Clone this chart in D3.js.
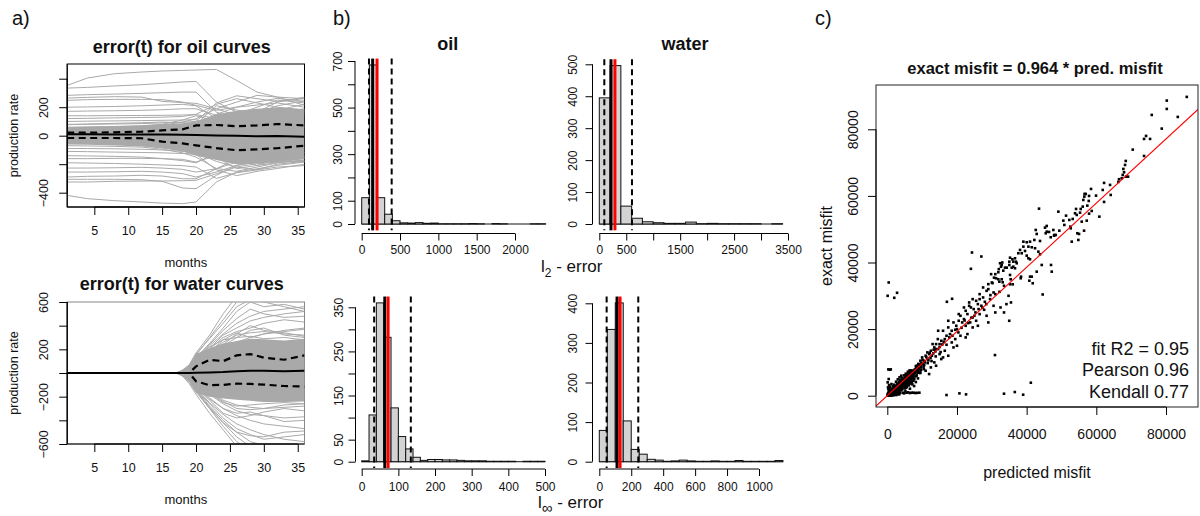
<!DOCTYPE html>
<html>
<head>
<meta charset="utf-8">
<script src="https://cdn.jsdelivr.net/npm/d3@7"></script>
<style>
  body { margin: 0; background: #fff; }
  svg { display: block; }
</style>
</head>
<body>
<svg id="fig" width="1200" height="516"></svg>
<script>
// ---------------- a) error(t) curves ----------------
const oilMonths = [1, 4, 8, 12, 15, 18, 20, 23, 26, 29, 32, 36];
const oilCoreHigh = [60, 62, 66, 72, 80, 88, 100, 150, 175, 190, 200, 185];
const oilCoreLow = [-62, -64, -68, -76, -90, -110, -140, -170, -200, -195, -185, -160];
const oilMedian = [10, 10, 9, 8, 8, 6, 5, 2, 0, -4, -2, -8];
const oilUpperQ = [21, 21, 24, 28, 37, 45, 72, 75, 66, 72, 82, 72];
const oilLowerQ = [-16, -16, -16, -18, -42, -54, -68, -87, -102, -96, -88, -70];
const oilCurves = [
  [353, 405, 435, 447, 454, 458, 461, 465, 388, 306, 271, 213],
  [334, 339, 349, 358, 367, 377, 381, 236, 166, 119, 143, 166],
  [283, 288, 292, 297, 302, 306, 306, 166, 108, 84, 96, 73],
  [264, 269, 274, 271, 241, 232, 227, 189, 143, 166, 189, 178],
  [248, 253, 255, 255, 253, 236, 213, 178, 201, 236, 262, 241],
  [171, 173, 175, 178, 182, 189, 189, 143, 96, 119, 166, 189],
  [77, 82, 87, 91, 96, 91, 84, 73, 119, 166, 236, 271],
  [-161, -161, -159, -159, -161, -166, -185, -138, -91, -115, -138, -150],
  [-227, -227, -225, -222, -227, -236, -255, -232, -185, -161, -150, -138],
  [-255, -255, -253, -250, -255, -266, -290, -255, -208, -185, -166, -161],
  [-290, -285, -283, -278, -283, -302, -302, -232, -161, -138, -126, -115],
  [-306, -306, -306, -309, -320, -367, -372, -278, -208, -185, -173, -185],
  [-325, -325, -320, -318, -318, -316, -313, -267, -220, -196, -185, -161],
  [-419, -442, -456, -465, -473, -477, -465, -325, -255, -232, -208, -185],
  [37, 37, 49, 61, 73, 96, 119, 189, 236, 283, 271, 260],
  [-33, -33, -40, -44, -56, -80, -103, -161, -185, -138, -115, -96],
  [-9, -9, -12, -14, -19, -30, -44, -150, -232, -208, -190, -170],
  [16, 18, 20, 25, 35, 45, 60, 150, 200, 215, 230, 200],
  [40, 42, 45, 50, 55, 60, 80, 210, 180, 160, 210, 245],
  [-70, -72, -75, -80, -95, -120, -150, -230, -250, -220, -190, -175],
  [60, 62, 65, 70, 80, 110, 140, 100, 60, 120, 180, 220],
  [-50, -52, -55, -60, -70, -90, -120, -60, -140, -210, -160, -120],
  [100, 102, 104, 106, 108, 110, 112, 60, -40, -120, -100, -80],
  [-110, -112, -115, -118, -120, -125, -130, -240, -280, -250, -230, -200],
  [140, 140, 141, 142, 143, 145, 148, 120, 150, 200, 250, 230],
  [120, 122, 125, 128, 130, 135, 150, 220, 260, 230, 200, 180],
  [-140, -142, -145, -150, -160, -175, -190, -120, -60, -100, -150, -180],
  [200, 202, 205, 210, 215, 220, 210, 120, 40, 10, 30, 60],
  [-190, -192, -195, -200, -205, -210, -220, -300, -260, -240, -220, -210],
  [-20, -22, -25, -30, -40, -55, -70, -40, 20, 80, 120, 150],
  [20, 22, 25, 30, 40, 55, 70, -20, -100, -150, -170, -150],
  [80, 80, 82, 85, 90, 95, 100, 230, 280, 260, 240, 260],
  [-90, -90, -92, -95, -100, -110, -120, -180, -220, -240, -200, -180]
];

const waterMonths = [1, 17, 18, 19, 20, 22, 24, 26, 28, 30, 33, 36];
const waterCoreHigh = [0, 0, 30, 70, 160, 210, 250, 270, 290, 285, 275, 290];
const waterCoreLow = [0, 0, -30, -70, -170, -200, -215, -225, -235, -245, -245, -240];
const waterMedian = [0, 0, 0, 0, 3, 5, 8, 14, 18, 20, 14, 20];
const waterUpperQ = [0, 0, 0, 0, 56, 112, 100, 149, 160, 130, 112, 149];
const waterLowerQ = [0, 0, 0, 0, -70, -104, -100, -90, -92, -98, -110, -115];
const waterCurves = [
  [0, 0, 20, 60, 150, 300, 450, 600, 700, 700, 700, 700],
  [0, 0, 15, 50, 130, 250, 380, 520, 600, 560, 580, 540],
  [0, 0, 10, 40, 120, 230, 330, 420, 480, 520, 540, 560],
  [0, 0, 10, 45, 110, 200, 300, 350, 380, 420, 450, 430],
  [0, 0, 8, 40, 100, 190, 260, 320, 340, 350, 330, 320],
  [0, 0, 12, 50, 140, 220, 280, 300, 310, 290, 300, 280],
  [0, 0, 5, 30, 90, 170, 230, 300, 360, 380, 320, 300],
  [0, 0, 10, 35, 80, 160, 240, 330, 400, 360, 340, 310],
  [0, 0, 18, 70, 170, 320, 500, 650, 700, 700, 700, 700],
  [0, 0, 6, 25, 70, 150, 210, 260, 300, 330, 350, 370],
  [0, 0, 15, 55, 160, 290, 420, 560, 620, 600, 560, 520],
  [0, 0, 10, 40, 120, 240, 360, 460, 540, 500, 470, 480],
  [0, 0, 8, 35, 110, 210, 320, 380, 440, 470, 500, 520],
  [0, 0, 6, 30, 95, 180, 280, 340, 300, 330, 360, 380],
  [0, 0, -20, -80, -160, -300, -420, -540, -620, -650, -650, -650],
  [0, 0, -15, -60, -140, -280, -400, -500, -580, -610, -620, -600],
  [0, 0, -10, -50, -130, -250, -350, -430, -480, -520, -560, -580],
  [0, 0, -10, -40, -110, -210, -300, -360, -400, -430, -450, -470],
  [0, 0, -8, -35, -100, -180, -260, -320, -350, -360, -380, -370],
  [0, 0, -6, -30, -90, -170, -240, -300, -310, -300, -290, -280],
  [0, 0, -10, -45, -120, -230, -340, -380, -360, -330, -300, -320],
  [0, 0, -25, -90, -180, -340, -480, -620, -700, -700, -700, -700],
  [0, 0, -12, -55, -150, -290, -420, -500, -530, -540, -500, -490],
  [0, 0, -5, -25, -80, -160, -230, -270, -290, -300, -270, -260],
  [0, 0, -12, -50, -140, -260, -380, -470, -520, -560, -540, -520],
  [0, 0, -8, -35, -110, -220, -300, -340, -330, -360, -410, -400],
  [0, 0, -15, -65, -150, -300, -450, -580, -650, -660, -650, -640],
  [0, 0, -6, -25, -85, -170, -250, -280, -270, -260, -250, -260]
];

const monthTicks = [5, 10, 15, 20, 25, 30, 35];
const oilRateTicks = [-400, -200, 0, 200, 400];
const oilRateLabels = [-400, 0, 200];
const waterRateTicks = [-600, -400, -200, 0, 200, 400, 600];
const waterRateLabels = [-600, -200, 200, 600];

// ---------------- b) error histograms ----------------
// counts per bin, bin width, and [lower dashed, median (black), mean (red), upper dashed]
const oilL2Counts = [113, 683, 113, 42, 14, 5, 4, 6, 3, 4, 1, 1, 1, 1, 2, 1, 0, 2, 1, 0, 0, 0, 1, 1];
const oilL2Bin = 100;
const oilL2Marks = [95, 143, 200, 391];
const waterL2Counts = [395, 496, 56, 18, 7, 4, 2, 2, 6, 1, 2, 1, 1, 1, 1, 0, 1];
const waterL2Bin = 200;
const waterL2Marks = [93, 217, 290, 606];
const oilLinfCounts = [2, 106, 360, 282, 122, 57, 29, 10, 3, 5, 5, 4, 4, 3, 2, 2, 2, 1, 1, 1, 1, 0, 1, 1, 1];
const oilLinfBin = 20;
const oilLinfMarks = [34, 63, 72, 134];
const waterLinfCounts = [79, 334, 401, 103, 31, 19, 6, 4, 1, 2, 4, 2, 1, 1, 2, 1, 1, 3, 1, 1, 1, 1, 3];
const waterLinfBin = 50;
const waterLinfMarks = [46, 111, 130, 244];

const oilL2XTicks = [0, 500, 1000, 1500, 2000];
const oilL2YTicks = [0, 100, 200, 300, 400, 500, 600, 700];
const oilL2YLabels = [0, 100, 300, 500, 700];
const waterL2XTicks = [0, 500, 1000, 1500, 2000, 2500, 3000, 3500];
const waterL2XLabels = [0, 500, 1500, 2500, 3500];
const waterL2YTicks = [0, 100, 200, 300, 400, 500];
const oilLinfXTicks = [0, 100, 200, 300, 400, 500];
const oilLinfYTicks = [0, 50, 100, 150, 200, 250, 300, 350];
const oilLinfYLabels = [0, 50, 150, 250, 350];
const waterLinfXTicks = [0, 200, 400, 600, 800, 1000];
const waterLinfYTicks = [0, 100, 200, 300, 400];

// ---------------- c) predicted vs exact misfit ----------------
const fitSlope = 0.964;
const misfitTicks = [0, 20000, 40000, 60000, 80000];
const fitStats = ["fit R2 = 0.95", "Pearson 0.96", "Kendall 0.77"];
// (predicted, exact) misfit pairs, in thousands
const misfitPointsK = [
  [85.96,89.73],[80.22,88.62],[80.22,86.12],[75.91,84.32],[83.38,83.72],[78.78,80.21],[74.28,78.01],[73.70,77.11],
  [75.43,77.11],[70.46,73.90],[73.70,72.00],[68.45,70.50],[68.25,69.30],[67.76,68.10],[67.96,67.10],[67.58,66.30],
  [68.53,65.78],[69.11,65.78],[67.30,65.30],[66.52,65.00],[66.33,64.20],[62.22,63.90],[63.94,63.30],[61.84,61.79],
  [58.48,62.09],[64.13,60.29],[59.92,60.08],[56.62,60.59],[56.96,60.59],[56.56,59.78],[57.91,59.99],[56.27,58.79],
  [57.82,58.49],[62.22,58.19],[56.10,56.78],[57.42,57.08],[58.68,55.48],[54.18,56.08],[55.52,56.08],[55.33,54.97],
  [53.89,54.79],[57.91,54.67],[60.87,53.77],[57.25,52.57],[55.81,52.27],[53.22,53.08],[52.25,52.78],[51.31,54.07],
  [54.38,54.28],[49.10,55.27],[50.53,52.57],[50.82,51.28],[49.38,49.56],[48.35,48.27],[47.86,48.06],[52.65,50.28],
  [52.54,50.77],[54.55,48.78],[55.04,48.57],[56.48,49.56],[52.94,46.26],[54.84,46.77],[43.55,56.17],[45.76,50.98],
  [45.27,50.47],[45.76,49.26],[47.66,49.77],[47.95,48.27],[46.91,47.58],[46.43,49.17],[45.48,48.78],[42.61,49.77],
  [42.89,48.57],[43.84,46.47],[42.21,46.77],[40.97,46.26],[40.02,46.08],[39.06,46.26],[39.06,44.76],[40.50,44.76],
  [41.46,44.58],[42.41,44.28],[38.10,43.77],[37.61,42.78],[38.58,42.78],[39.53,43.47],[43.36,43.26],[43.84,42.47],
  [40.02,42.06],[40.50,41.27],[40.97,40.97],[36.66,41.27],[36.95,40.25],[37.15,39.77],[36.18,40.25],[35.23,41.45],
  [35.89,40.97],[35.03,40.25],[35.03,39.26],[35.72,38.45],[36.18,38.75],[36.66,38.27],[34.28,38.45],[33.79,38.45],
  [32.84,39.26],[32.36,39.77],[32.64,38.75],[44.33,39.26],[47.00,39.26],[47.20,37.25],[42.89,37.25],[35.23,36.26],
  [35.42,34.96],[33.30,37.55],[31.87,37.07],[30.63,35.45],[31.21,35.27],[31.87,34.96],[32.84,34.96],[32.16,34.24],
  [33.13,34.06],[38.39,35.75],[38.30,35.27],[40.97,35.75],[41.46,35.75],[40.77,34.54],[41.74,33.76],[36.00,33.46],
  [35.23,33.46],
  [33.0,40.0],[32.0,38.0],[31.0,36.5],[30.2,33.8],[29.0,33.5],[30.5,31.0],[28.5,31.5],[27.5,29.5],[28.0,28.2],
  [26.5,29.0],[27.0,27.0],[25.5,28.5],[26.0,27.5],[24.8,26.0],[25.3,25.0],[23.5,27.0],[24.0,26.5],[22.5,25.5],
  [23.0,24.5],[24.5,23.5],[22.0,23.0],[21.0,24.0],[21.5,22.0],[20.5,22.5],[19.8,21.0],[20.0,20.0],[22.5,21.0],
  [23.8,22.0],[25.5,22.5],[26.5,24.5],[27.8,25.8],[29.5,29.0],[30.5,27.0],[32.5,26.5],[34.2,27.5],[35.5,28.0],
  [33.5,25.0],[35.0,22.5],[34.8,30.0],[19.0,22.0],[18.5,19.5],[17.5,20.5],[18.0,18.5],[17.0,18.0],[16.0,19.5],
  [16.5,17.0],[15.5,16.5],[15.0,15.5],[14.5,17.0],[14.0,15.5],[13.5,14.5],[14.0,14.0],[13.0,15.5],[12.5,13.5],
  [12.0,12.5],[12.8,12.0],[11.5,13.0],[11.0,12.0],[11.5,11.0],[10.5,10.5],[10.0,11.5],[10.8,10.0],[9.8,9.8],
  [9.5,10.5],[9.0,9.5],[9.2,8.8],[8.5,9.0],[8.8,8.2],[16.5,13.5],[17.5,12.0],[18.5,16.0],[19.5,17.0],[21.0,18.0],
  [22.5,17.5],[20.0,15.0],[19.0,14.5],[15.5,11.0],[13.5,10.0],[12.5,8.5],[14.0,9.0],[11.0,7.5],[12.0,6.5],
  [10.5,8.0],[9.5,7.0],[16.0,11.5],[15.0,12.5],[23.0,18.5],[24.5,20.5],[26.0,21.0],[28.5,24.0],[29.0,22.0],
  [31.0,25.0],[17.5,22.5],[20.5,24.5],[22.0,26.5],[23.5,28.0],[24.5,29.0],[26.5,30.5],[27.5,32.5],[29.0,32.0],
  [30.0,34.0],[29.8,36.5],
  [0.4,34.0],[0.1,30.0],[2.0,29.4],[2.8,30.9],[24.3,43.0],[27.0,41.8],[24.0,38.1],[17.1,28.2],[18.6,29.1],
  [14.6,19.5],[30.9,12.2],[41.2,3.9],[17.0,0.2],[20.7,0.7],[22.6,0.4],[33.5,0.6],[36.6,1.1],[39.0,0.3],[44.6,30.4],
  [0.2,0.3],[0.4,0.1],[0.5,0.6],[0.7,0.4],[0.8,1.0],[1.0,0.5],[1.1,0.2],[1.2,1.3],[1.3,0.8],[1.5,1.1],[1.6,0.4],
  [1.7,1.6],[1.8,0.9],[2.0,1.4],[2.1,0.6],[2.2,2.0],[2.3,1.1],[2.4,0.3],[2.5,1.7],[2.6,2.5],[2.7,0.9],[2.8,1.4],
  [2.9,2.1],[3.0,0.5],[3.1,3.0],[3.2,1.8],[3.3,2.6],[3.4,1.2],[3.5,3.4],[3.6,2.2],[3.7,0.8],[3.8,2.9],[3.9,1.6],
  [4.0,3.8],[4.1,2.5],[4.2,4.4],[4.3,1.9],[4.4,3.2],[4.5,0.9],[4.6,4.0],[4.7,2.8],[4.8,5.0],[4.9,3.6],[5.0,2.2],
  [5.1,4.6],[5.2,1.4],[5.3,3.0],[5.4,5.4],[5.5,4.2],[5.6,2.6],[5.7,5.9],[5.8,3.5],[5.9,4.8],[6.0,1.0],[6.1,5.2],
  [6.2,3.1],[6.3,6.3],[6.4,4.3],[6.5,2.1],[6.6,5.6],[6.7,3.8],[6.8,6.8],[6.9,4.9],[7.0,0.9],[7.1,6.0],[7.2,3.4],
  [7.3,7.4],[7.4,5.3],[7.5,4.5],[7.6,6.6],[7.7,2.9],[7.8,7.8],[7.9,5.8],[8.0,0.8],[8.1,7.1],[8.2,4.1],[8.3,8.4],
  [8.4,6.2],[8.6,7.6],[8.8,5.2],[9.0,8.0],[9.2,0.9],[9.4,6.8],[9.6,8.5],
  [0.3,0.9],[0.6,1.5],[0.9,2.1],[1.4,1.9],[1.9,2.6],[2.4,2.9],[2.9,3.6],[3.3,4.1],[3.7,4.7],[4.2,5.3],[4.8,6.1],
  [5.3,6.6],[5.9,7.2],[6.4,7.6],[0.3,7.9],[0.7,7.8],[1.0,7.9],[0.2,2.5],[0.1,4.0],[0.5,3.2],[1.2,3.5],[1.6,2.8],
  [0.4,5.0],[2.0,3.3],[2.5,4.2],[3.0,4.9],[3.5,5.5],[4.0,6.0],[1.8,0.1],[2.6,0.2],[3.4,0.4],[1.2,0.0],[0.6,0.0],
  [0.9,0.2],[1.5,0.3],[2.2,0.5],[0.1,0.1],[0.3,1.9],[0.8,2.7],[1.1,1.0],[1.9,1.8],[2.7,2.7],[3.6,3.6],[4.4,4.3],
  [5.0,5.0],[5.6,5.5],[6.2,6.1],[6.9,7.2],[7.4,6.8],[8.2,8.9],[8.9,9.5],[9.8,9.2],[10.2,9.6],[10.4,8.6],[11.8,10.6],
  [12.4,11.3],[13.2,12.7],[13.8,13.3],[15.0,14.6],[15.8,15.4],
  [0.15,0.5],[0.25,0.7],[0.35,0.2],[0.45,0.9],[0.55,0.3],[0.65,1.1],[0.75,0.6],[0.85,1.4],[0.95,0.8],[1.05,1.6],
  [1.15,0.4],[1.25,1.8],[1.35,1.2],[1.45,0.6],[1.55,1.9],[1.65,1.0],[1.75,2.2],[1.85,1.3],[1.95,0.7],[2.05,2.4],
  [2.15,1.5],[2.25,2.7],[2.35,1.8],[2.45,0.9],[2.55,2.2],[2.65,3.0],[2.75,1.9],[2.85,2.6],[2.95,1.2],[3.05,3.3],
  [3.15,2.4],[3.25,1.5],[3.35,3.0],[3.45,2.0],[3.55,3.8],[3.65,2.7],[3.75,1.9],[3.85,3.3],[3.95,4.2],[4.05,3.0],
  [4.15,2.1],[4.25,3.6],[4.35,4.7],[4.45,2.6],[4.55,3.4],[4.65,5.1],[4.75,4.4],[4.85,2.9],[4.95,4.1],[5.05,5.5],
  [5.15,3.7],[5.25,4.9],[5.35,2.4],[5.45,6.1],[5.55,3.3],[5.65,5.2],[5.75,4.5],[5.85,6.4],[5.95,3.9],[6.05,5.7],
  [6.15,4.7],[6.25,6.8],[6.35,3.6],[6.45,5.9],[6.55,7.1],[6.65,4.9],[6.75,6.2],[6.85,5.4],[6.95,7.6],[7.05,4.2],
  [7.15,6.5],[7.35,5.8],[7.55,7.2],[7.75,5.0],[7.95,6.9],[8.15,8.0],[8.35,5.9],[8.55,8.3],[8.75,6.9],[8.95,7.4],
  [9.3,9.0],[9.7,7.8],[10.1,10.8],[10.6,9.2],[11.2,11.6],[11.6,9.8],[12.2,12.9],[12.7,10.4],[13.3,13.8],[13.9,11.8],
  [14.6,14.0],[15.3,13.1],[16.2,16.2],[17.0,15.3],[17.8,17.5],[18.7,18.0],[19.5,19.8],[20.4,19.0],[21.3,20.4],
  [22.2,22.6],[23.2,21.8],[24.1,23.4],[25.0,24.0],[26.2,26.0],[27.3,26.4],[28.4,27.5],[29.6,30.2],[31.0,30.5],
  [32.2,31.2],[33.5,33.0],[5.5,0.9],[6.5,0.8],[7.5,0.9],[8.5,0.85],[4.8,0.7]
];

// ---------------- drawing ----------------
const FONT = "'Liberation Sans', Arial, Helvetica, sans-serif";
const CURVE_GRAY = "#a9a9a9";
const svg = d3.select("#fig").attr("font-family", FONT);

function fmtNum(v) { return v < 0 ? "\u2212" + Math.abs(v) : String(v); }
function labelOnly(list) { return v => list.includes(v) ? fmtNum(v) : ""; }

// R-style bottom axis: a line from first to last tick, ticks pointing down
function axisBelow(scale, ticks, fmt, yPos, o) {
  const a = svg.append("g").attr("transform", `translate(0,${yPos})`)
    .call(d3.axisBottom(scale).tickValues(ticks).tickFormat(fmt).tickSize(o.size).tickPadding(o.pad));
  a.select(".domain").remove();
  a.append("line").attr("x1", scale(ticks[0])).attr("x2", scale(ticks[ticks.length - 1]))
    .attr("stroke", "#000");
  a.attr("font-family", FONT).attr("font-size", o.fs);
  a.selectAll(".tick line").attr("stroke", "#000");
  a.selectAll(".tick text").attr("fill", "#111");
  return a;
}

// R-style left axis with labels rotated parallel to the axis
function axisLeftR(scale, ticks, fmt, xPos, o) {
  const a = svg.append("g").attr("transform", `translate(${xPos},0)`)
    .call(d3.axisLeft(scale).tickValues(ticks).tickFormat(fmt).tickSize(o.size));
  a.select(".domain").remove();
  a.append("line").attr("y1", scale(ticks[0])).attr("y2", scale(ticks[ticks.length - 1]))
    .attr("stroke", "#000");
  a.attr("font-family", FONT).attr("font-size", o.fs);
  a.selectAll(".tick line").attr("stroke", "#000");
  a.selectAll(".tick text").attr("x", 0).attr("y", -o.gap).attr("dy", 0)
    .attr("transform", "rotate(-90)").attr("text-anchor", "middle").attr("fill", "#111");
  return a;
}

function text(x, y, s, size, opts = {}) {
  const t = svg.append("text").attr("x", x).attr("y", y).attr("font-size", size)
    .attr("text-anchor", opts.anchor || "middle").attr("fill", "#111").text(s);
  if (opts.bold) t.attr("font-weight", "bold");
  if (opts.rotate) t.attr("transform", `rotate(-90,${x},${y})`);
  return t;
}

// ----- panel a -----
function curvePanel(p) {
  const x = d3.scaleLinear().domain([1, 36]).range([p.left, p.right]);
  const y = d3.scaleLinear().domain(p.yRef).range(p.yRefPx);
  const clipId = p.id + "-clip";
  svg.append("clipPath").attr("id", clipId).append("rect")
    .attr("x", p.left).attr("y", p.top).attr("width", p.right - p.left).attr("height", p.bottom - p.top);

  svg.append("rect").attr("x", p.left).attr("y", p.top)
    .attr("width", p.right - p.left).attr("height", p.bottom - p.top)
    .attr("fill", "none").attr("stroke", p.boxColor).attr("stroke-width", 1);

  const g = svg.append("g").attr("clip-path", `url(#${clipId})`);
  const line = d3.line().x((d, i) => x(p.months[i])).y(d => y(d));
  const core = d3.area().x((d, i) => x(p.months[i]))
    .y0((d, i) => y(p.coreLow[i])).y1(d => y(d));

  g.append("path").datum(p.coreHigh).attr("d", core).attr("fill", CURVE_GRAY);
  g.selectAll("path.curve").data(p.curves).join("path").attr("class", "curve")
    .attr("d", line).attr("fill", "none").attr("stroke", CURVE_GRAY).attr("stroke-width", 1);
  [p.lowerQ, p.upperQ].forEach(q => {
    g.append("path").datum(q).attr("d", line).attr("fill", "none")
      .attr("stroke", "#000").attr("stroke-width", 2.2).attr("stroke-dasharray", "7,4.5");
  });
  g.append("path").datum(p.median).attr("d", line).attr("fill", "none")
    .attr("stroke", "#000").attr("stroke-width", 2);

  svg.append("line").attr("x1", p.left).attr("x2", p.left).attr("y1", p.top).attr("y2", p.bottom).attr("stroke", "#000");
  svg.append("line").attr("x1", p.left).attr("x2", p.right).attr("y1", p.bottom).attr("y2", p.bottom).attr("stroke", "#000");

  axisBelow(x, monthTicks, d => d, p.bottom, { size: 8, pad: 11, fs: 12.5 });
  axisLeftR(y, p.yTicks, labelOnly(p.yLabels), p.left, { size: 8, gap: 19.5, fs: 12.5 });

  text((p.left + p.right) / 2 - 4, p.titleY, p.title, 18, { bold: true });
  text((p.left + p.right) / 2, p.bottom + 60, "months", 13);
  text(17.5, (p.top + p.bottom) / 2, "production rate", 12.5, { rotate: true });
}

curvePanel({
  id: "oil", left: 67.2, right: 304.5, top: 64, bottom: 207,
  yRef: [-400, 200], yRefPx: [192.7, 107.2],
  months: oilMonths, coreHigh: oilCoreHigh, coreLow: oilCoreLow, curves: oilCurves,
  median: oilMedian, upperQ: oilUpperQ, lowerQ: oilLowerQ,
  yTicks: oilRateTicks, yLabels: oilRateLabels, boxColor: "#000",
  title: "error(t) for oil curves", titleY: 53
});
curvePanel({
  id: "water", left: 67.2, right: 304.5, top: 302, bottom: 444,
  yRef: [-600, 600], yRefPx: [444, 302],
  months: waterMonths, coreHigh: waterCoreHigh, coreLow: waterCoreLow, curves: waterCurves,
  median: waterMedian, upperQ: waterUpperQ, lowerQ: waterLowerQ,
  yTicks: waterRateTicks, yLabels: waterRateLabels, boxColor: "#888",
  title: "error(t) for water curves", titleY: 290
});

// ----- panel b -----
function histPanel(h) {
  const x = d3.scaleLinear().domain([0, h.xRef]).range(h.xRefPx);
  const y = d3.scaleLinear().domain([0, h.yRef]).range(h.yRefPx);
  const ymax = d3.max(h.counts);
  const bins = h.counts.map((c, i) => ({ lo: i * h.bin, hi: (i + 1) * h.bin, c }));
  const g = svg.append("g");

  g.append("line").attr("x1", x(0)).attr("x2", x(h.counts.length * h.bin))
    .attr("y1", y(0)).attr("y2", y(0)).attr("stroke", "#111");
  g.selectAll("rect").data(bins.filter(b => b.c > 0)).join("rect")
    .attr("x", d => x(d.lo)).attr("width", d => x(d.hi) - x(d.lo))
    .attr("y", d => y(d.c)).attr("height", d => y(0) - y(d.c))
    .attr("fill", "#d3d3d3").attr("stroke", "#111").attr("stroke-width", 1);

  const yTop = y(ymax * 1.04), yBot = y(-ymax * 0.04);
  const vline = (v, color, w, dash) => {
    const l = g.append("line").attr("x1", x(v)).attr("x2", x(v)).attr("y1", yTop).attr("y2", yBot)
      .attr("stroke", color).attr("stroke-width", w);
    if (dash) l.attr("stroke-dasharray", dash);
  };
  vline(h.marks[0], "#000", 2, "6,4");
  vline(h.marks[3], "#000", 2, "6,4");
  vline(h.marks[1], "#000", 3);
  vline(h.marks[2], "#ff0000", 3);

  axisBelow(x, h.xTicks, h.xFmt, h.axisY, { size: 7, pad: h.xPad, fs: 12 });
  axisLeftR(y, h.yTicks, h.yFmt, h.axisX, { size: 7, gap: h.yGap, fs: 12 });
  if (h.title) text(x(h.counts.length * h.bin / 2) - 6, 50, h.title, 18, { bold: true });
}

histPanel({
  counts: oilL2Counts, bin: oilL2Bin, marks: oilL2Marks,
  xRef: 2000, xRefPx: [361.7, 515], yRef: 700, yRefPx: [224, 61],
  xTicks: oilL2XTicks, xFmt: d => d, yTicks: oilL2YTicks, yFmt: labelOnly(oilL2YLabels),
  axisY: 233.5, axisX: 355, xPad: 5, yGap: 13, title: "oil"
});
histPanel({
  counts: waterL2Counts, bin: waterL2Bin, marks: waterL2Marks,
  xRef: 3500, xRefPx: [599.3, 788], yRef: 500, yRefPx: [224, 64.3],
  xTicks: waterL2XTicks, xFmt: labelOnly(waterL2XLabels), yTicks: waterL2YTicks, yFmt: d => d,
  axisY: 233.5, axisX: 592.5, xPad: 5, yGap: 15.5, title: "water"
});
histPanel({
  counts: oilLinfCounts, bin: oilLinfBin, marks: oilLinfMarks,
  xRef: 500, xRefPx: [361.7, 545], yRef: 350, yRefPx: [461.7, 307.3],
  xTicks: oilLinfXTicks, xFmt: d => d, yTicks: oilLinfYTicks, yFmt: labelOnly(oilLinfYLabels),
  axisY: 469, axisX: 355.5, xPad: 6.5, yGap: 13
});
histPanel({
  counts: waterLinfCounts, bin: waterLinfBin, marks: waterLinfMarks,
  xRef: 1000, xRefPx: [599.3, 759], yRef: 400, yRefPx: [461.7, 303.3],
  xTicks: waterLinfXTicks, xFmt: d => d, yTicks: waterLinfYTicks, yFmt: d => d,
  axisY: 469, axisX: 592.5, xPad: 6.5, yGap: 15.5
});

// axis titles with sub-scripted norms
const l2 = svg.append("text").attr("x", 541).attr("y", 272).attr("font-size", 17).attr("fill", "#111");
l2.append("tspan").text("l");
l2.append("tspan").attr("dy", 5).attr("font-size", 12).text("2");
l2.append("tspan").attr("dy", -5).text(" - error");
const linf = svg.append("text").attr("x", 538).attr("y", 508).attr("font-size", 17).attr("fill", "#111");
linf.append("tspan").text("l");
linf.append("tspan").attr("dy", 5).attr("font-size", 15).text("\u221e");
linf.append("tspan").attr("dy", -5).text(" - error");

// ----- panel c -----
const box = { left: 876, right: 1198, top: 85, bottom: 407 };
const xs = d3.scaleLinear().domain([0, 80000]).range([887.3, 1166]);
const ys = d3.scaleLinear().domain([0, 80000]).range([395.7, 129.3]);
svg.append("clipPath").attr("id", "scatter-clip").append("rect")
  .attr("x", box.left).attr("y", box.top).attr("width", box.right - box.left).attr("height", box.bottom - box.top);

const sg = svg.append("g").attr("clip-path", "url(#scatter-clip)");
const ptSize = 2.6;
sg.selectAll("rect").data(misfitPointsK).join("rect")
  .attr("x", d => xs(d[0] * 1000) - ptSize / 2).attr("y", d => ys(d[1] * 1000) - ptSize / 2)
  .attr("width", ptSize).attr("height", ptSize).attr("fill", "#000");
const xLo = xs.invert(box.left), xHi = xs.invert(box.right);
sg.append("line").attr("x1", xs(xLo)).attr("y1", ys(fitSlope * xLo))
  .attr("x2", xs(xHi)).attr("y2", ys(fitSlope * xHi)).attr("stroke", "#ff0000").attr("stroke-width", 1.1);

svg.append("rect").attr("x", box.left).attr("y", box.top)
  .attr("width", box.right - box.left).attr("height", box.bottom - box.top)
  .attr("fill", "none").attr("stroke", "#222");

axisBelow(xs, misfitTicks, d => d, box.bottom, { size: 8, pad: 14, fs: 14 });
axisLeftR(ys, misfitTicks, d => d, box.left, { size: 8, gap: 18, fs: 14 });

text(1035, 74, "exact misfit = 0.964 * pred. misfit", 16.5, { bold: true });
text(1037, 478, "predicted misfit", 16);
text(832, 246, "exact misfit", 16, { rotate: true });
fitStats.forEach((s, i) => text(1189, 355 + i * 21.3, s, 18, { anchor: "end" }));

// panel letters
text(12, 25, "a)", 20, { anchor: "start" });
text(333, 25, "b)", 20, { anchor: "start" });
text(815, 25, "c)", 20, { anchor: "start" });
</script>
</body>
</html>
